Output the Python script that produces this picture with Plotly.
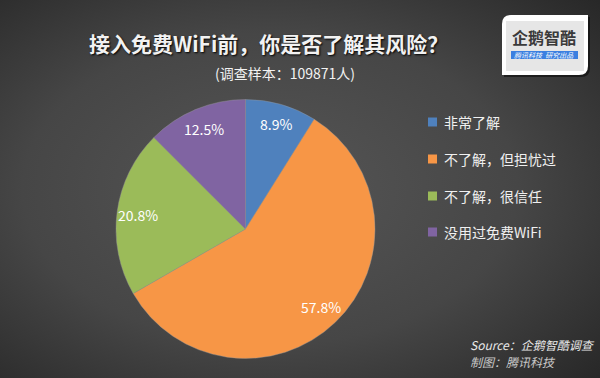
import base64
import math
import plotly.graph_objects as go

labels = ["非常了解", "不了解，但担忧过", "不了解，很信任", "没用过免费WiFi"]
values = [8.9, 57.8, 20.8, 12.5]
colors = ["#4F81BD", "#F79646", "#9BBB59", "#8064A2"]

title_text = "接入免费WiFi前，你是否了解其风险？"
subtitle_text = "(调查样本：109871人)"
source_text = "Source：企鹅智酷调查"
credit_text = "制图：腾讯科技"
logo_text = "企鹅智酷"
logo_sub = "腾讯科技  研究出品"

W, H = 600, 378
FONT = "Noto Sans CJK SC"
CX, CY, R = 245.5, 229.0, 129.5  # pie centre (px from top-left) and radius

svg = f'''<svg xmlns="http://www.w3.org/2000/svg" width="{W}" height="{H}">
<defs><radialGradient id="g" cx="0.45" cy="0.5" r="0.75">
<stop offset="0" stop-color="#565656"/><stop offset="0.55" stop-color="#464646"/><stop offset="1" stop-color="#272727"/>
</radialGradient></defs><rect width="{W}" height="{H}" fill="url(#g)"/></svg>'''
bg_src = "data:image/svg+xml;base64," + base64.b64encode(svg.encode()).decode()

pie_domain = dict(x=[(CX - R) / W, (CX + R) / W], y=[(H - CY - R) / H, (H - CY + R) / H])

fig = go.Figure()
fig.add_trace(go.Pie(
    labels=labels, values=values, sort=False, direction="clockwise", rotation=0,
    marker=dict(colors=colors, line=dict(color="#9a9a9a", width=0.4)),
    textinfo="none", showlegend=False, hoverinfo="label+percent",
    domain=pie_domain,
))

annotations = [
    dict(text=f"<b>{title_text}</b>", x=268 / W, y=1 - 43 / H, xref="paper", yref="paper", showarrow=False,
         xanchor="center", yanchor="middle",
         font=dict(family=FONT, size=21, color="#f2f2f2", shadow="1px 1px 2px #000")),
    dict(text=subtitle_text, x=285 / W, y=1 - 73 / H, xref="paper", yref="paper", showarrow=False,
         xanchor="center", yanchor="middle", font=dict(family=FONT, size=14, color="#f2f2f2")),
    dict(text=f"<i>{source_text}</i>", x=468 / W, y=1 - 344 / H, xref="paper", yref="paper", showarrow=False,
         xanchor="left", yanchor="middle", font=dict(family=FONT, size=12, color="#e8e8e8")),
    dict(text=f"<i>{credit_text}</i>", x=468 / W, y=1 - 361 / H, xref="paper", yref="paper", showarrow=False,
         xanchor="left", yanchor="middle", font=dict(family=FONT, size=12, color="#c8c8c8")),
    dict(text=f"<b>{logo_text}</b>", x=544 / W, y=1 - 37 / H, xref="paper", yref="paper", showarrow=False,
         xanchor="center", yanchor="middle", font=dict(family=FONT, size=16, color="#3a3a3a")),
    dict(text=f"<i>{logo_sub}</i>", x=544 / W, y=1 - 55 / H, xref="paper", yref="paper", showarrow=False,
         xanchor="center", yanchor="middle", font=dict(family=FONT, size=7, color="white")),
]

# value labels placed along each slice's bisector, near the rim (Excel style)
total = sum(values)
cum = 0.0
for v in values:
    ang = 2 * math.pi * (cum + v / 2) / total
    cum += v
    px = CX + 0.84 * R * math.sin(ang)
    py = CY - 0.84 * R * math.cos(ang)
    annotations.append(dict(text=f"{v:.1f}%", x=px / W, y=1 - py / H, xref="paper", yref="paper",
                            showarrow=False, xanchor="center", yanchor="middle",
                            font=dict(family=FONT, size=14, color="white")))

shapes = [
    dict(type="path", xref="paper", yref="paper",
         path=f"M {504/W},{1-17/H} L {590/W},{1-17/H} L {590/W},{1-68/H} Q {590/W},{1-77/H} {581/W},{1-77/H} L {504/W},{1-77/H} Z",
         fillcolor="rgba(0,0,0,0.5)", line=dict(width=0)),
    dict(type="path", xref="paper", yref="paper",
         path=f"M {502/W},{1-24/H} Q {502/W},{1-15/H} {511/W},{1-15/H} L {588/W},{1-15/H} L {588/W},{1-66/H} Q {588/W},{1-75/H} {579/W},{1-75/H} L {502/W},{1-75/H} Z",
         fillcolor="#ffffff", line=dict(width=0)),
    dict(type="rect", xref="paper", yref="paper", x0=506 / W, x1=584 / W, y0=1 - 71 / H, y1=1 - 21 / H,
         fillcolor="#e6e6e6", line=dict(width=0)),
    dict(type="rect", xref="paper", yref="paper", x0=511 / W, x1=578 / W, y0=1 - 59 / H, y1=1 - 51 / H,
         fillcolor="#3b7fe0", line=dict(width=0)),
]

leg_y = [122, 159, 196, 232]
for lab, col, yy in zip(labels, colors, leg_y):
    shapes.append(dict(type="rect", xref="paper", yref="paper",
                       x0=428 / W, x1=437 / W, y0=1 - (yy + 4.5) / H, y1=1 - (yy - 4.5) / H,
                       fillcolor=col, line=dict(width=0)))
    annotations.append(dict(text=lab, x=442 / W, y=1 - yy / H, xref="paper", yref="paper", showarrow=False,
                            xanchor="left", yanchor="middle",
                            font=dict(family=FONT, size=14, color="#f0f0f0")))

fig.update_layout(
    width=W, height=H, margin=dict(l=0, r=0, t=0, b=0),
    paper_bgcolor="#3a3a3a", plot_bgcolor="#3a3a3a",
    images=[dict(source=bg_src, xref="paper", yref="paper", x=0, y=1, sizex=1, sizey=1,
                 xanchor="left", yanchor="top", sizing="stretch", layer="below")],
    annotations=annotations, shapes=shapes,
)

fig.write_html("out.html", config={"displayModeBar": False},
               post_script="document.body.style.margin='0';document.body.style.overflow='hidden';")
